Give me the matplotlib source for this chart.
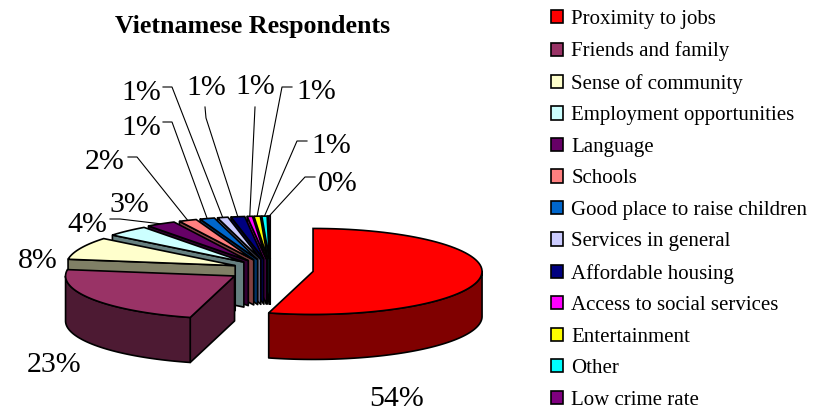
import numpy as np
import matplotlib
matplotlib.use('Agg')
import matplotlib.pyplot as plt
from matplotlib.patches import Polygon, Patch

plt.rcParams['font.family'] = ['Liberation Serif', 'DejaVu Serif']

categories = ['Proximity to jobs', 'Friends and family', 'Sense of community',
              'Employment opportunities', 'Language', 'Schools',
              'Good place to raise children', 'Services in general',
              'Affordable housing', 'Access to social services',
              'Entertainment', 'Other', 'Low crime rate']
values = [53.9, 23.0, 8.4, 4.1, 2.8, 1.7, 1.4, 1.0, 1.3, 0.5, 0.6, 0.5, 0.2]
labels = ['54%', '23%', '8%', '4%', '3%', '2%', '1%', '1%', '1%', '1%', '1%', '1%', '0%']
colors = ['#FF0000', '#993366', '#FFFFCC', '#CCFFFF', '#660066', '#FF8080',
          '#0066CC', '#CCCCFF', '#000080', '#FF00FF', '#FFFF00', '#00FFFF', '#800080']

# pie layout in pixels
cx, cy = 270.5, 270
rx, ry = 169, 43
explode = 0.254
depth = 45
nudge = [0, 0, 4, 3, 0, 0, 0, 0, 0, 0, 0, 0, 0]

# label centres and leader elbows, by slice
label_pos = [(397, 398.5), (54, 365), (38, 261), (87, 225), (129, 205), (105, 162),
             (141, 128), (141, 93), (206, 88), (255, 87), (316, 92), (331, 146), (338, 184)]
elbows = [None, None, None, None, [(110, 219), (120, 219)],
          [(128, 157), (137, 157)], [(163, 122), (172, 122)], [(163, 87), (172, 87)],
          [(205, 107), (206, 118)], [(255, 107)], [(292, 87), (282, 87)],
          [(307, 141), (297, 141)], [(315, 177), (305, 177)]]


def rim(apex, theta):
    # theta in degrees, clockwise from 12 o'clock
    t = np.radians(theta)
    return np.column_stack([apex[0] + rx * np.sin(t), apex[1] - ry * np.cos(t)])


def wall(points, color, ax, z):
    lower = points[::-1] + [0, depth]
    ax.add_patch(Polygon(np.vstack([points, lower]), closed=True, facecolor=color,
                         edgecolor='black', lw=1.2, joinstyle='round', zorder=z))


fig = plt.figure(figsize=(8.21, 4.11), dpi=100)
ax = fig.add_axes([0, 0, 1, 1])
ax.set_xlim(0, 821)
ax.set_ylim(411, 0)
ax.axis('off')

edges = np.cumsum([0] + values) / sum(values) * 360
for i in range(len(values) - 1, -1, -1):
    start, end = edges[i], edges[i + 1]
    mid = np.radians((start + end) / 2)
    apex = np.array([cx + explode * rx * np.sin(mid) + nudge[i], cy - explode * ry * np.cos(mid)])
    side = np.array(matplotlib.colors.to_rgb(colors[i])) * 0.5
    z = 10 + (len(values) - i) * 3

    # radial wall, only when it faces the viewer
    if np.cos(np.radians(start - 90)) < 0:
        wall(np.vstack([[apex], rim(apex, start)]), side, ax, z)
    if np.cos(np.radians(end + 90)) < 0:
        wall(np.vstack([[apex], rim(apex, end)]), side, ax, z)
    lo, hi = max(start, 90), min(end, 270)
    if hi > lo:
        wall(rim(apex, np.linspace(lo, hi, 80)), side, ax, z + 1)

    top = np.vstack([[apex], rim(apex, np.linspace(start, end, 80))])
    ax.add_patch(Polygon(top, closed=True, facecolor=colors[i], edgecolor='black',
                         lw=1.2, zorder=z + 2))

    ax.text(label_pos[i][0], label_pos[i][1], labels[i], fontsize=21.5, ha='center',
            va='center', color='black')
    if elbows[i] is not None:
        tip = rim(apex, (start + end) / 2)[0]
        path = np.array(elbows[i] + [tuple(tip)])
        ax.plot(path[:, 0], path[:, 1], color='black', lw=0.8, zorder=5)

ax.text(253, 27, 'Vietnamese Respondents', fontsize=18.7, fontweight='bold',
        ha='center', va='center')

handles = [Patch(facecolor=c, edgecolor='black', lw=1.2) for c in colors]
ax.legend(handles, categories, loc='upper left', bbox_to_anchor=(551 / 821, 1 - 10 / 411),
          frameon=False, fontsize=15, borderpad=0, borderaxespad=0, handlelength=0.59,
          handleheight=0.59, handletextpad=0.38, labelspacing=0.6)

fig.savefig('out.png', dpi=100)
